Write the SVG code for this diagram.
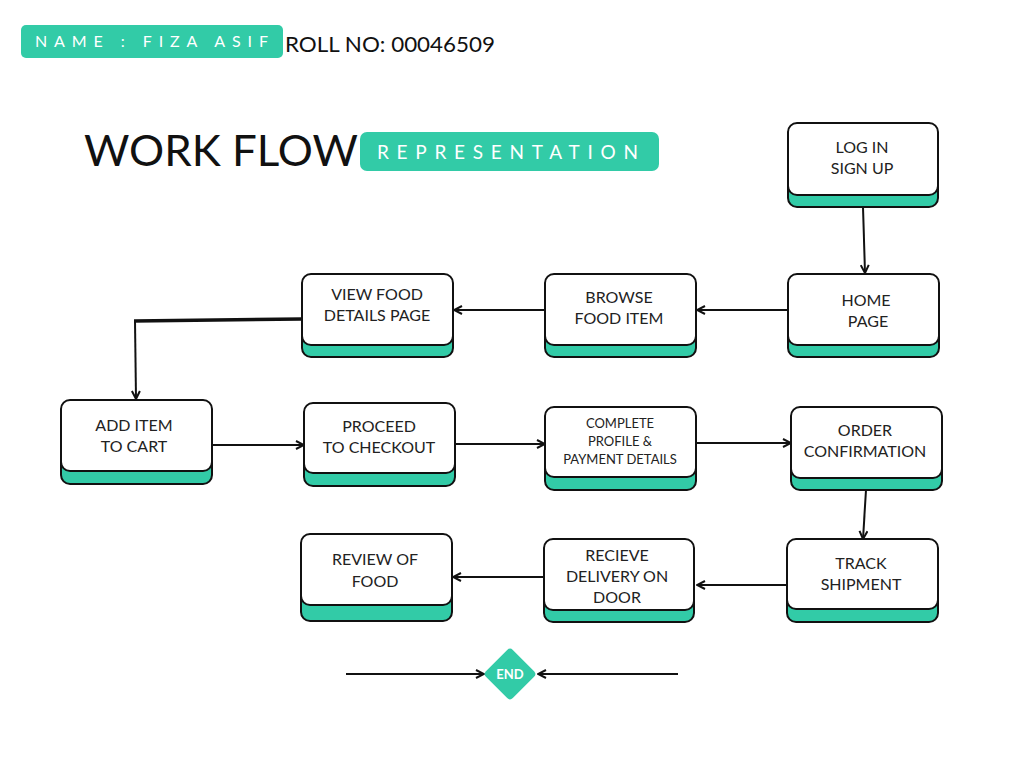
<svg xmlns="http://www.w3.org/2000/svg" width="1024" height="768" viewBox="0 0 1024 768">
<style>
.sh{fill:#32cba7;stroke:#111;stroke-width:2}
.bx{fill:#fff;stroke:#111;stroke-width:2}
.t{font-family:Lato,"Liberation Sans",sans-serif;font-size:16px;fill:#222;text-anchor:middle}
.ts{font-family:Lato,"Liberation Sans",sans-serif;font-size:13px;fill:#222;text-anchor:middle}
.c{stroke:#111;stroke-width:2;fill:none;marker-end:url(#ah)}
</style>
<defs>
<marker id="ah" viewBox="0 0 10 10" refX="9" refY="5" markerWidth="5" markerHeight="5" orient="auto" markerUnits="strokeWidth">
<path d="M1,1 L9,5 L1,9" fill="none" stroke="#111" stroke-width="2"/>
</marker>
</defs>
<rect width="1024" height="768" fill="#fff"/>
<g id="header">
<rect x="21" y="25" width="262" height="33" rx="5" fill="#32cba7"/>
<text x="35" y="47" font-family="Lato,'Liberation Sans',sans-serif" font-size="16" fill="#fff" textLength="233" lengthAdjust="spacing">NAME : FIZA ASIF</text>
<text x="285" y="52" font-family="Lato,'Liberation Sans',sans-serif" font-size="21" fill="#111" textLength="210" lengthAdjust="spacingAndGlyphs">ROLL NO: 00046509</text>
<text x="84" y="166" font-family="Lato,'Liberation Sans',sans-serif" font-size="42" fill="#111" textLength="274" lengthAdjust="spacingAndGlyphs">WORK FLOW</text>
<rect x="360" y="132" width="299" height="39" rx="7" fill="#32cba7"/>
<text x="377" y="159" font-family="Lato,'Liberation Sans',sans-serif" font-size="19" fill="#fff" textLength="261" lengthAdjust="spacing">REPRESENTATION</text>
</g>
<g id="connectors">
<path class="c" d="M863,207 L865,273"/>
<path class="c" d="M788,310 L697,310"/>
<path class="c" d="M545,310 L454,310"/>
<path d="M302,319 L134,321" stroke="#111" stroke-width="3.5" fill="none"/>
<path class="c" d="M135,321 L136,399"/>
<path class="c" d="M212,445 L304,445"/>
<path class="c" d="M456,444 L545,444"/>
<path class="c" d="M696,443 L791,443"/>
<path class="c" d="M866,490 L863,539"/>
<path class="c" d="M787,585 L697,585"/>
<path class="c" d="M544,577 L453,577"/>
<path class="c" d="M346,674 L484,674"/>
<path class="c" d="M678,674 L538,674"/>
</g>
<g id="login">
<rect class="sh" x="788" y="135" width="150" height="72" rx="9"/>
<rect class="bx" x="788" y="123" width="150" height="72" rx="9"/>
<text class="t" x="862" y="153">LOG IN</text><text class="t" x="862" y="174">SIGN UP</text>
</g>
<g id="home">
<rect class="sh" x="788" y="286" width="151" height="71" rx="9"/>
<rect class="bx" x="788" y="274" width="151" height="71" rx="9"/>
<text class="t" x="866" y="306">HOME</text><text class="t" x="868" y="327">PAGE</text>
</g>
<g id="browse">
<rect class="sh" x="545" y="286" width="151" height="71" rx="9"/>
<rect class="bx" x="545" y="274" width="151" height="71" rx="9"/>
<text class="t" x="619" y="303">BROWSE</text><text class="t" x="619" y="324">FOOD ITEM</text>
</g>
<g id="viewfood">
<rect class="sh" x="302" y="286" width="151" height="71" rx="9"/>
<rect class="bx" x="302" y="274" width="151" height="71" rx="9"/>
<text class="t" x="377" y="300">VIEW FOOD</text><text class="t" x="377" y="321">DETAILS PAGE</text>
</g>
<g id="additem">
<rect class="sh" x="61" y="413" width="151" height="71" rx="9"/>
<rect class="bx" x="61" y="400" width="151" height="71" rx="9"/>
<text class="t" x="134" y="431">ADD ITEM</text><text class="t" x="134" y="452">TO CART</text>
</g>
<g id="checkout">
<rect class="sh" x="304" y="415" width="151" height="71" rx="9"/>
<rect class="bx" x="304" y="403" width="151" height="70" rx="9"/>
<text class="t" x="379" y="432">PROCEED</text><text class="t" x="379" y="453">TO CHECKOUT</text>
</g>
<g id="complete">
<rect class="sh" x="545" y="419" width="151" height="71" rx="9"/>
<rect class="bx" x="545" y="407" width="151" height="70" rx="9"/>
<text class="ts" x="620" y="428">COMPLETE</text><text class="ts" x="620" y="446">PROFILE &amp;</text><text class="ts" x="620" y="464">PAYMENT DETAILS</text>
</g>
<g id="order">
<rect class="sh" x="791" y="419" width="151" height="71" rx="9"/>
<rect class="bx" x="791" y="407" width="151" height="71" rx="9"/>
<text class="t" x="865" y="436">ORDER</text><text class="t" x="865" y="457">CONFIRMATION</text>
</g>
<g id="track">
<rect class="sh" x="787" y="551" width="151" height="71" rx="9"/>
<rect class="bx" x="787" y="539" width="151" height="70" rx="9"/>
<text class="t" x="861" y="569">TRACK</text><text class="t" x="861" y="590">SHIPMENT</text>
</g>
<g id="recieve">
<rect class="sh" x="544" y="551" width="150" height="71" rx="9"/>
<rect class="bx" x="544" y="539" width="150" height="71" rx="9"/>
<text class="t" x="617" y="561">RECIEVE</text><text class="t" x="617" y="582">DELIVERY ON</text><text class="t" x="617" y="603">DOOR</text>
</g>
<g id="review">
<rect class="sh" x="301" y="550" width="151" height="71" rx="9"/>
<rect class="bx" x="301" y="534" width="151" height="71" rx="9"/>
<text class="t" x="375" y="565">REVIEW OF</text><text class="t" x="375" y="587">FOOD</text>
</g>
<g id="end">
<rect x="491" y="655" width="38" height="38" rx="4" fill="#32cba7" transform="rotate(45 510 674)"/>
<text x="510" y="679" font-family="Lato,'Liberation Sans',sans-serif" font-size="13" font-weight="bold" fill="#fff" text-anchor="middle">END</text>
</g>
</svg>
